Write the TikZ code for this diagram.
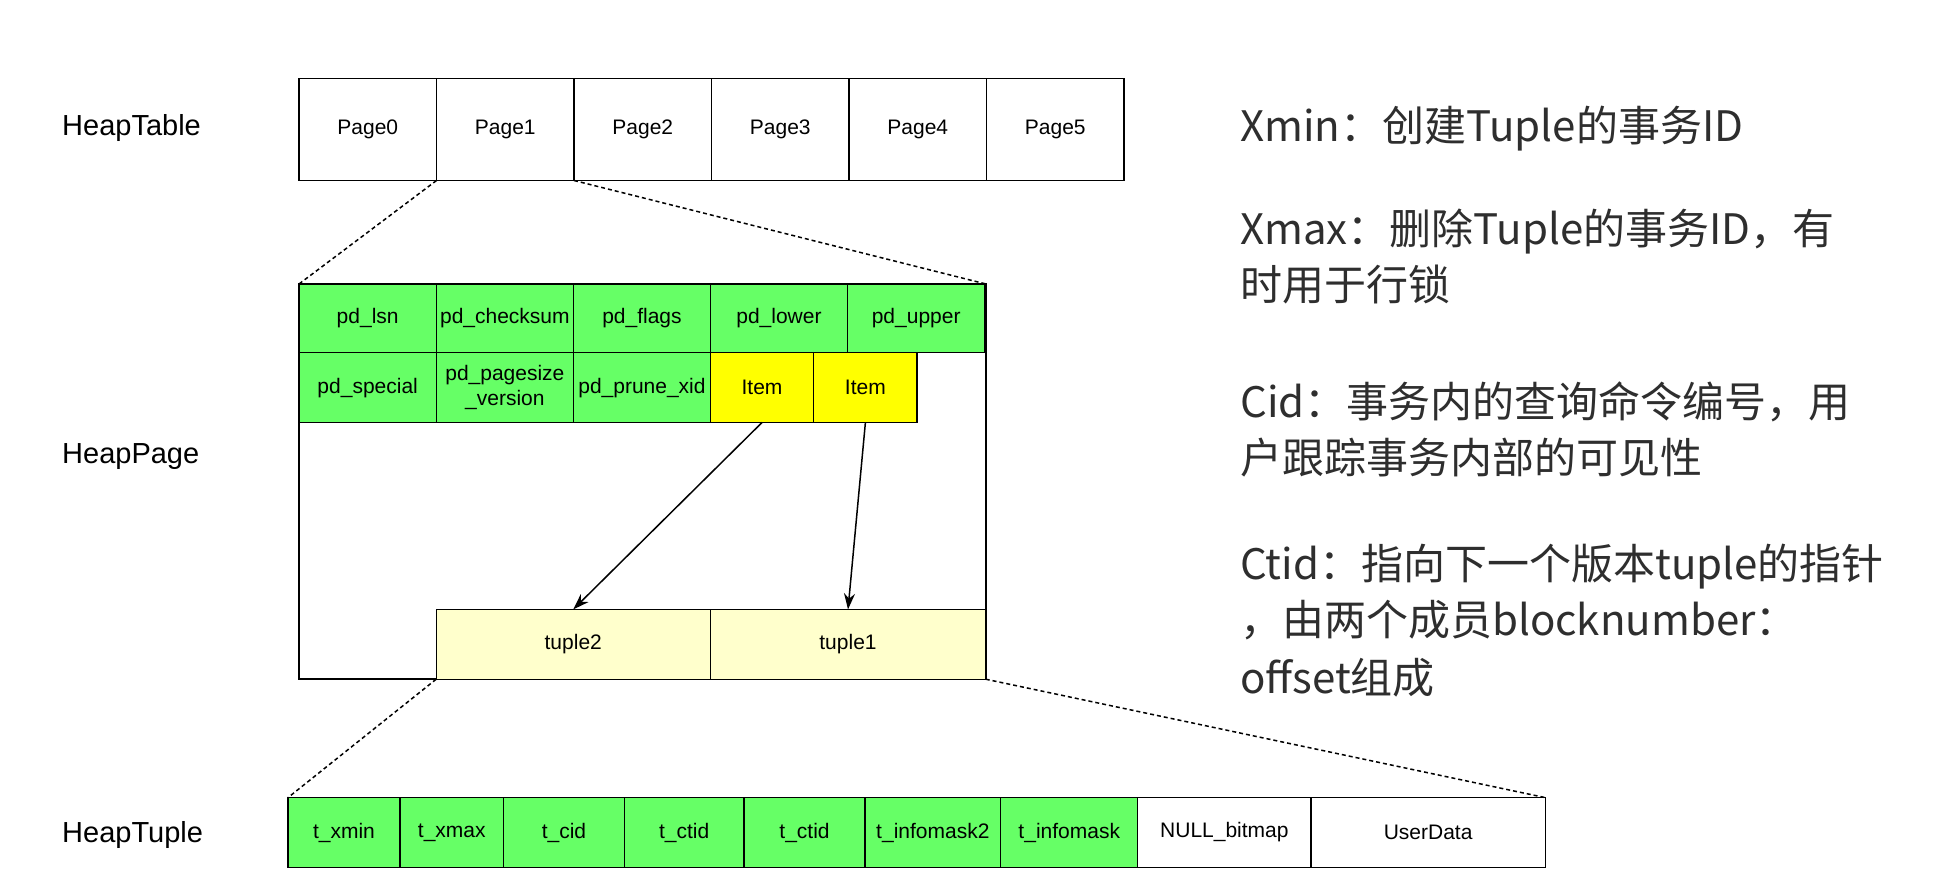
\documentclass[tikz,border=0pt]{standalone}
\usepackage{fontspec}
\setmainfont{Liberation Sans}
\newfontfamily\cjk{Noto Sans CJK SC}
\usetikzlibrary{arrows.meta}

\definecolor{fieldgreen}{HTML}{66FF66}
\definecolor{itemyellow}{HTML}{FFFF00}
\definecolor{tuplefill}{HTML}{FFFFCC}
\definecolor{notegray}{HTML}{2E2E2E}

\tikzset{
  cell/.style={draw, line width=1.3pt, anchor=north west, inner sep=0pt, outer sep=0pt,
    align=center, font=\fontsize{21}{25}\selectfont},
  pagecell/.style={cell, minimum width=137.5pt, minimum height=102pt},
  hdrcell/.style={cell, fill=fieldgreen, minimum width=137.35pt, minimum height=#1},
  itemcell/.style={cell, fill=itemyellow, minimum width=103.4pt, minimum height=69.8pt},
  tuplecell/.style={cell, fill=tuplefill, minimum height=69.8pt},
  fieldcell/.style={cell, fill=fieldgreen, minimum height=69.8pt},
  datacell/.style={cell, minimum height=69.8pt},
  rowlabel/.style={anchor=west, inner sep=0pt, font=\fontsize{29}{34}\selectfont},
  note/.style={anchor=base west, inner sep=0pt, text=notegray, font=\cjk\fontsize{42}{56}\selectfont},
  zoomline/.style={line width=1.5pt, dash pattern=on 4pt off 3pt},
  pointer/.style={line width=1.5pt, -{Stealth[length=16pt, width=11pt]}}
}

\begin{document}
\begin{tikzpicture}[x=1pt, y=-1pt]
  \useasboundingbox (0,0) rectangle (1954,894);

  % row labels
  \node[rowlabel] (lbltable) at (62,128) {HeapTable};
  \node[rowlabel] (lblpage) at (62,457) {HeapPage};
  \node[rowlabel] (lbltuple) at (62,835) {HeapTuple};

  % heap table
  \foreach \i in {0,...,5}
    \node[pagecell] (page\i) at ({299+137.5*\i},78.5) {Page\i};

  % heap page
  \node[cell, minimum width=687pt, minimum height=395pt] (heappage) at (299,284) {};
  \node[hdrcell=68.6pt] (lsn) at (299,284) {pd\_lsn};
  \node[hdrcell=68.6pt] (checksum) at (436.2,284) {pd\_checksum};
  \node[hdrcell=68.6pt] (flags) at (573.3,284) {pd\_flags};
  \node[hdrcell=68.6pt] (lower) at (710.3,284) {pd\_lower};
  \node[hdrcell=68.6pt] (upper) at (847.5,284) {pd\_upper};
  \node[hdrcell=69.8pt] (special) at (299,352.7) {pd\_special};
  \node[hdrcell=69.8pt] (pagesize) at (436.2,352.7) {pd\_pagesize\\\_version};
  \node[hdrcell=69.8pt] (prune) at (573.3,352.7) {pd\_prune\_xid};
  \node[itemcell] (item1) at (710.3,352.7) {Item};
  \node[itemcell] (item2) at (813.7,352.7) {Item};
  \node[tuplecell, minimum width=274.1pt] (tup2) at (436.2,609.4) {tuple2};
  \node[tuplecell, minimum width=275.4pt] (tup1) at (710.3,609.4) {tuple1};

  % item pointers
  \draw[pointer] (item1.south) -- (tup2.north);
  \draw[pointer] (item2.south) -- (tup1.north);

  % heap tuple
  \node[fieldcell, minimum width=112pt] (xmin) at (288,797.6) {t\_xmin};
  \node[fieldcell, minimum width=103.5pt] (xmax) at (400,797.6) {t\_xmax};
  \node[fieldcell, minimum width=120.9pt] (cid) at (503.5,797.6) {t\_cid};
  \node[fieldcell, minimum width=119.6pt] (ctida) at (624.4,797.6) {t\_ctid};
  \node[fieldcell, minimum width=121pt] (ctidb) at (744,797.6) {t\_ctid};
  \node[fieldcell, minimum width=135.7pt] (mask2) at (865,797.6) {t\_infomask2};
  \node[fieldcell, minimum width=137.1pt] (mask) at (1000.7,797.6) {t\_infomask};
  \node[datacell, minimum width=173.2pt] (bitmap) at (1137.8,797.6) {NULL\_bitmap};
  \node[datacell, minimum width=234.3pt] (userdata) at (1311,797.6) {UserData};

  % zoom guides
  \draw[zoomline] (page1.south west) -- (heappage.north west);
  \draw[zoomline] (page1.south east) -- (heappage.north east);
  \draw[zoomline] (tup2.south west) -- (xmin.north west);
  \draw[zoomline] (tup1.south east) -- (userdata.north east);

  % notes
  \node[note] (notexmin) at (1240,141) {Xmin：创建Tuple的事务ID};
  \node[note] (notexmax) at (1240,244) {Xmax：删除Tuple的事务ID，有};
  \node[note] (notexmaxb) at (1240,300) {时用于行锁};
  \node[note] (notecid) at (1240,417) {Cid：事务内的查询命令编号，用};
  \node[note] (notecidb) at (1240,473) {户跟踪事务内部的可见性};
  \node[note] (notectid) at (1240,579) {Ctid：指向下一个版本tuple的指针};
  \node[note] (notectidb) at (1240,635) {，由两个成员blocknumber：};
  \node[note] (notectidc) at (1240,693) {offset组成};
\end{tikzpicture}
\end{document}
